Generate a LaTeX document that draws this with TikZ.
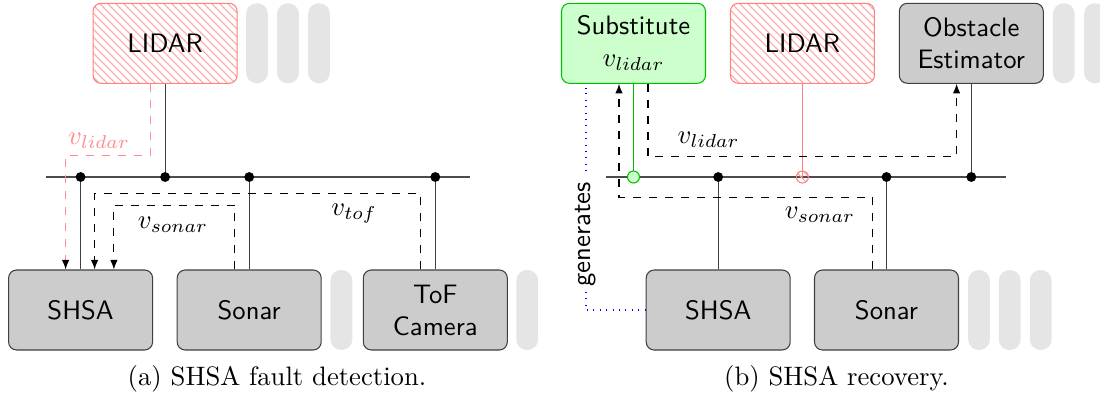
\documentclass[tikz,border=0pt]{standalone}
\usetikzlibrary{arrows.meta,calc,patterns}
\begin{document}
\begin{tikzpicture}[x=0.375pt,y=-0.375pt,
  comp/.style={rectangle, rounded corners=3pt, draw=black!75, fill=black!20,
    minimum width=54pt, minimum height=30pt, inner sep=1pt,
    font=\sffamily, align=center},
  faulty/.style={comp, draw=red!50, fill=none, pattern=north west lines, pattern color=red!35},
  subst/.style={comp, draw=green!75!black, fill=green!20},
  pill/.style={rectangle, rounded corners=4pt, fill=black!10,
    minimum width=8.2pt, minimum height=30pt, inner sep=0pt},
  busline/.style={draw=black!70},
  link/.style={draw=black!75},
  dot/.style={circle, fill=black, inner sep=0pt, minimum size=3.7pt},
  flow/.style={dashed, -{Latex[length=3.6pt,width=2.8pt,color=black]}},
  lbl/.style={inner sep=1pt},
]
\useasboundingbox (0,0) rectangle (1100,400);

% ---------------- (a) fault detection ----------------
\node[faulty] (lidarA) at (165.1,43.3) {LIDAR};
\node[pill] (pa1) at (257,43.3) {};
\node[pill] (pa2) at (288,43.3) {};
\node[pill] (pa3) at (319,43.3) {};

\node[comp] (shsaA)  at (80.6,310) {SHSA};
\node[comp] (sonarA) at (249.2,310) {Sonar};
\node[pill] (pa4) at (341.4,310) {};
\node[comp] (tofA)   at (435.3,310) {ToF\\Camera};
\node[pill] (pa5) at (527.2,310) {};

\coordinate (busAw) at (45.6,177);
\coordinate (busAe) at (469.7,177);
\draw[busline] (busAw) -- (busAe);

\draw[link] (lidarA.south) -- (lidarA.south |- busAw) node[dot] {};
\draw[link] (shsaA.north) -- (shsaA.north |- busAw) node[dot] {};
\draw[link] (sonarA.north) -- (sonarA.north |- busAw) node[dot] {};
\draw[link] (tofA.north) -- (tofA.north |- busAw) node[dot] {};

% value flows towards SHSA
\draw[flow, draw=red!45] ($(lidarA.south)+(-15,0)$) |- ($(shsaA.north)+(-15,-114)$)
  -- ($(shsaA.north)+(-15,0)$);
\draw[flow] ($(tofA.north)+(-14.7,0)$) |- ($(shsaA.north)+(14,-75.7)$)
  -- ($(shsaA.north)+(14,0)$);
\draw[flow] ($(sonarA.north)+(-14.4,0)$) |- ($(shsaA.north)+(33.3,-64.3)$)
  -- ($(shsaA.north)+(33.3,0)$);

\node[lbl, text=red!45] (vlidA) at (99,141) {$v_{lidar}$};
\node[lbl] (vsonA) at (173,225) {$v_{sonar}$};
\node[lbl] (vtofA) at (354,214) {$v_{tof}$};

\node (capA) at (277,379) {(a) SHSA fault detection.};

% ---------------- (b) recovery ----------------
\node[subst] (subB) at (633.5,43.3) {Substitute\\$v_{lidar}$};
\node[faulty] (lidarB) at (802.4,43.3) {LIDAR};
\node[comp] (obsB) at (971.3,43.3) {Obstacle\\Estimator};
\node[pill] (pb1) at (1063.8,43.3) {};
\node[pill] (pb2) at (1095,43.3) {};

\node[comp] (shsaB)  at (718.2,310) {SHSA};
\node[comp] (sonarB) at (886.5,310) {Sonar};
\node[pill] (pb3) at (979,310) {};
\node[pill] (pb4) at (1009.7,310) {};
\node[pill] (pb5) at (1040.7,310) {};

\coordinate (busBw) at (606,177);
\coordinate (busBe) at (1005.7,177);
\draw[busline] (busBw) -- (busBe);

\draw[draw=green!75!black] (subB.south) -- (subB.south |- busBw)
  node[circle, draw=green!75!black, fill=green!20, inner sep=0pt, minimum size=4.5pt] {};
\draw[draw=red!50] (lidarB.south) -- (lidarB.south |- busBw)
  node[circle, draw=red!50, pattern=north west lines, pattern color=red!35, inner sep=0pt, minimum size=4.5pt] {};
\draw[link] (shsaB.north) -- (shsaB.north |- busBw) node[dot] {};
\draw[link] (sonarB.north) -- (sonarB.north |- busBw) node[dot] {};
\draw[link] (obsB.south) -- (obsB.south |- busBw) node[dot] {};

% value flows through the substitute
\draw[flow] ($(subB.south)+(14.5,0)$) |- ($(obsB.south)+(-14.7,73)$)
  -- ($(obsB.south)+(-14.7,0)$);
\draw[flow] ($(sonarB.north)+(-14,0)$) |- ($(subB.south)+(-14.5,113.4)$)
  -- ($(subB.south)+(-14.5,0)$);

\node[lbl] (vlidB) at (708.6,140) {$v_{lidar}$};
\node[lbl] (vsonB) at (820,215) {$v_{sonar}$};

% SHSA generates the substitute
\draw[dotted, draw=blue] (shsaB.west) -| ($(subB.south)+(-47.5,4)$)
  node[pos=0.67, rotate=90, fill=white, inner sep=2pt, font=\sffamily] (gen) {generates};

\node (capB) at (836.5,379) {(b) SHSA recovery.};
\end{tikzpicture}
\end{document}
